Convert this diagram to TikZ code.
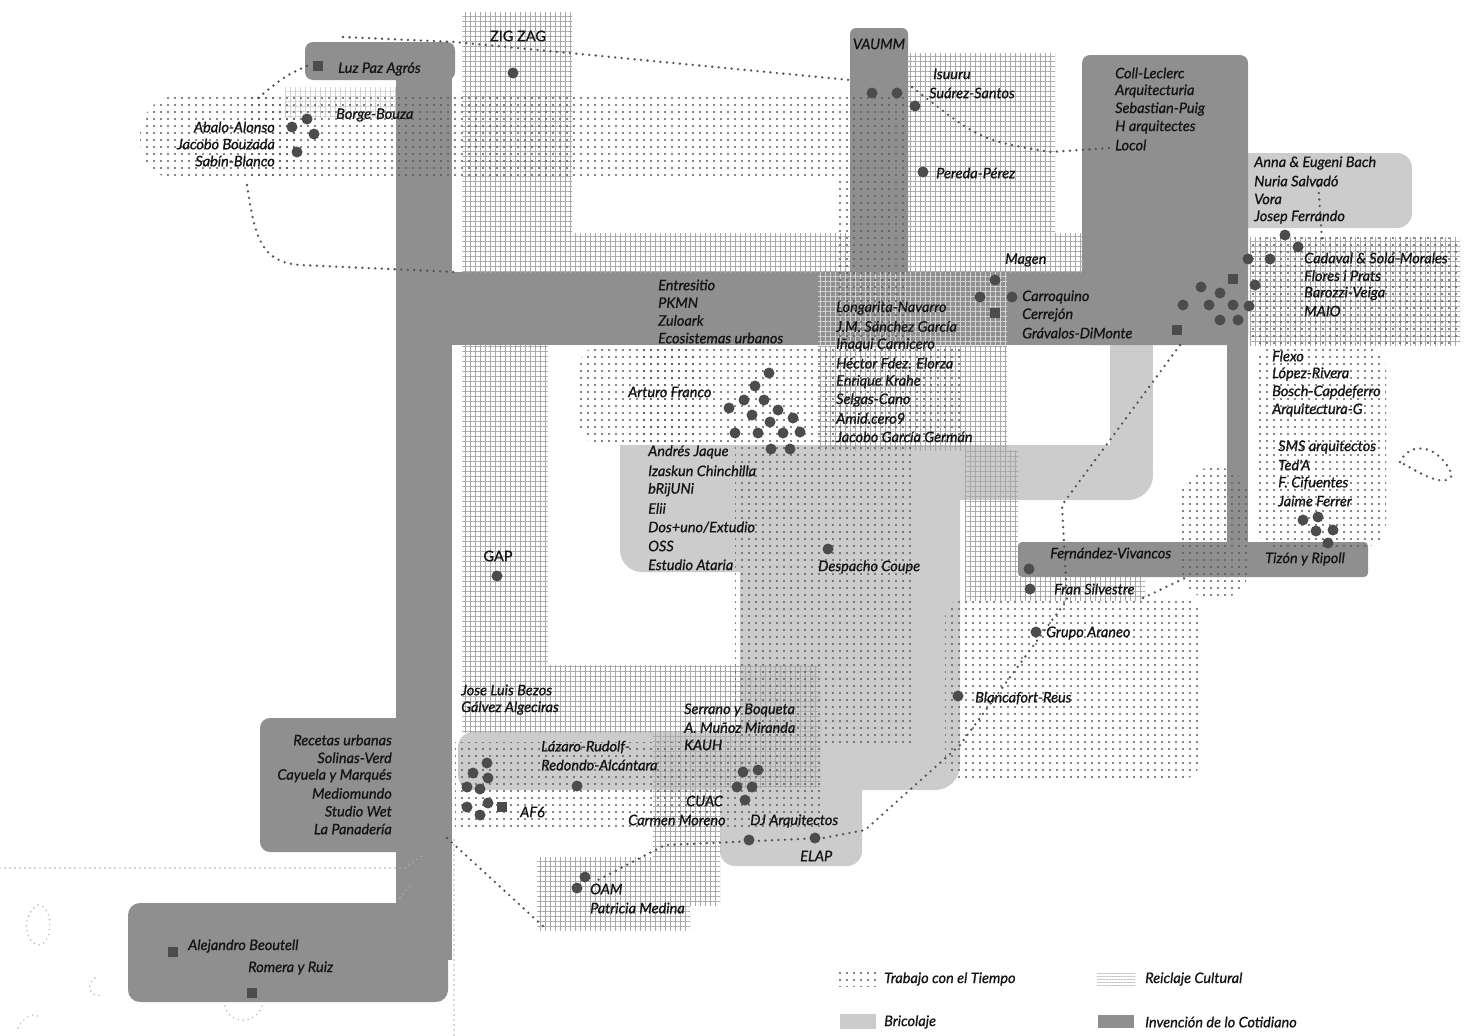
\documentclass[tikz,border=0pt]{standalone}
\usepackage{fontspec}
\setmainfont{Lato}
\newfontfamily\labfont{Lato}[FakeBold=0.9]
\usetikzlibrary{patterns.meta}
\definecolor{dk}{gray}{0.56}
\definecolor{lg}{gray}{0.80}
\definecolor{grc}{gray}{0.66}
\definecolor{dtc}{gray}{0.36}
\definecolor{trc}{gray}{0.32}
\definecolor{mkc}{gray}{0.30}
\definecolor{txc}{gray}{0.08}
\tikzset{
 lab/.style={font=\labfont\fontsize{14.5}{17}\selectfont\itshape, anchor=west, inner sep=0pt, text=txc},
 labr/.style={lab, anchor=east},
 labu/.style={font=\labfont\fontsize{14.5}{17}\selectfont, inner sep=0pt, text=txc},
 gridfill/.style={pattern={Hatch[angle=0,distance=5pt,line width=0.5pt]}, pattern color=grc},
 gridlight/.style={pattern={Hatch[angle=0,distance=5pt,line width=0.5pt]}, pattern color=gray!35},
 dotfill/.style={pattern={Dots[radius=1.1pt,distance=7pt]}, pattern color=dtc},
 mk/.style={circle, fill=mkc, inner sep=0pt, minimum size=11pt},
 mksq/.style={rectangle, fill=mkc, inner sep=0pt, minimum size=10pt},
 trail/.style={draw=trc, line width=2.6pt, line cap=round, dash pattern=on 0pt off 6.5pt},
 trailthin/.style={draw=gray!60, line width=1.6pt, line cap=round, dash pattern=on 0pt off 5pt},
}
\begin{document}
\begin{tikzpicture}[x=1pt,y=-1pt]
\useasboundingbox (0,0) rectangle (1465,1036);
\fill[white] (0,0) rectangle (1465,1036);

% ---------- Bricolaje (light gray)
\fill[lg, rounded corners=15pt] (1200,153) rectangle (1412,228);
\fill[lg] (1110,340) rectangle (1153,470);
\fill[lg, rounded corners=25pt] (1000,445) rectangle (1153,500);
\fill[lg] (620,445) rectangle (1100,500);
\fill[lg, rounded corners=22pt] (620,445) rectangle (760,572);
\fill[lg] (650,445) rectangle (760,572);
\fill[lg, rounded corners=25pt] (740,445) rectangle (960,790);
\fill[lg] (740,445) rectangle (930,790);
\fill[lg, rounded corners=15pt] (458,732) rectangle (840,790);
\fill[lg, rounded corners=15pt] (720,770) rectangle (862,866);

% ---------- Invencion de lo Cotidiano (dark gray)
\fill[dk, rounded corners=8pt] (305,42) rectangle (455,80);
\fill[dk] (396,60) rectangle (452,960);
\fill[dk, rounded corners=10pt] (260,718) rectangle (446,852);
\fill[dk, rounded corners=12pt] (128,903) rectangle (448,1002);
\fill[dk] (450,272) rectangle (1230,345);
\fill[dk, rounded corners=6pt] (850,28) rectangle (908,300);
\fill[dk, rounded corners=8pt] (1082,55) rectangle (1248,345);
\fill[dk] (1227,330) rectangle (1248,560);
\fill[dk, rounded corners=4pt] (1018,542) rectangle (1368,577);

% ---------- Reciclaje Cultural (grid)
\path[gridfill] (462,12) rectangle (572,272);
\path[gridfill] (572,233) rectangle (850,272);
\path[gridfill] (908,53) rectangle (1055,272);
\path[gridfill] (1055,233) rectangle (1082,272);
\path[gridfill] (462,345) rectangle (548,732);
\path[gridfill] (548,665) rectangle (820,732);
\path[gridfill] (653,732) rectangle (820,787);
\path[gridfill] (653,787) rectangle (720,905);
\path[gridfill] (537,857) rectangle (690,930);
\path[gridfill] (818,345) rectangle (1007,450);
\path[gridlight] (818,272) rectangle (1007,345);
\path[gridfill] (965,450) rectangle (1018,600);
\path[gridfill] (1018,577) rectangle (1145,600);
\path[gridfill] (1250,237) rectangle (1460,345);
\path[gridlight] (285,87) rectangle (396,118);

% ---------- Trabajo con el Tiempo (dots)
\path[dotfill, rounded corners=40pt] (140,95) rectangle (300,180);
\path[dotfill] (250,95) rectangle (908,180);
\path[dotfill] (837,180) rectangle (908,345);
\path[dotfill, rounded corners=25pt] (578,345) rectangle (700,445);
\path[dotfill] (640,345) rectangle (960,445);
\path[dotfill] (735,445) rectangle (915,742);
\path[dotfill] (455,742) rectangle (825,828);
\path[dotfill, rounded corners=20pt] (945,598) rectangle (1200,780);
\path[dotfill, rounded corners=35pt] (1180,467) rectangle (1250,600);
\path[dotfill, rounded corners=25pt] (1255,345) rectangle (1386,548);
\path[dotfill, rounded corners=15pt] (1250,237) rectangle (1460,345);

% ---------- dotted trails
\coordinate (t1a) at (307,66); \coordinate (t1b) at (258,98);
\draw[trail] (t1a) .. controls (285,76) .. (t1b);
\coordinate (t2a) at (247,185); \coordinate (t2b) at (455,272);
\draw[trail] (t2a) .. controls (255,240) and (262,262) .. (300,265) -- (t2b);
\coordinate (t3a) at (343,37); \coordinate (t3b) at (850,80);
\draw[trail] (t3a) -- (455,42) -- (t3b);
\coordinate (t4a) at (912,87); \coordinate (t4b) at (1110,148);
\draw[trail] (t4a) .. controls (980,140) .. (1050,152) -- (t4b);
\coordinate (t5a) at (1180,345); \coordinate (t5b) at (598,880);
\draw[trail] (t5a) -- (1062,505) -- (1067,600) -- (960,745) -- (865,830) -- (823,838) -- (665,845) -- (t5b);
\coordinate (t6a) at (447,838); \coordinate (t6b) at (545,928);
\draw[trail] (t6a) -- (t6b);
\coordinate (t7a) at (0,868); \coordinate (t7b) at (422,856);
\draw[trailthin] (t7a) -- (405,868) -- (t7b);
\coordinate (t8a) at (454,840); \coordinate (t8b) at (454,1036);
\draw[trailthin] (t8a) -- (t8b);
\coordinate (t9a) at (1143,598); \coordinate (t9b) at (1187,577);
\draw[trail] (t9a) -- (t9b);
\coordinate (t10a) at (1318,180); \coordinate (t10b) at (1322,240);
\draw[trail] (t10a) -- (t10b);
\draw[trail] (1400,462) .. controls (1410,440) and (1440,445) .. (1452,475) .. controls (1445,490) and (1415,470) .. (1400,462);
\draw[trailthin] (38,905) .. controls (20,915) and (25,945) .. (40,945) .. controls (55,940) and (52,905) .. (38,905);
\draw[trailthin] (95,978) .. controls (85,985) and (90,998) .. (102,995);
\draw[trailthin] (18,1028) .. controls (25,1015) and (35,1012) .. (40,1018);
\draw[trailthin] (225,1006) .. controls (230,1025) and (255,1025) .. (262,1006);
\draw[trailthin] (400,898) -- (412,884);

% ---------- markers
\node[mksq] (luz) at (318,66) {};
\foreach \p [count=\i] in {(292,127),(307,119),(314,134),(297,152)} \node[mk] (abalo\i) at \p {};
\node[mk] (zig) at (513,73) {};
\node[mk] (vau1) at (872,93) {};
\node[mk] (vau2) at (897,93) {};
\node[mk] (sua) at (915,106) {};
\node[mk] (per) at (923,172) {};
\foreach \p [count=\i] in {(1285,235),(1298,247),(1248,259),(1270,259),(1201,287),(1220,293),(1255,285),(1183,305),(1209,305),(1233,305),(1249,306),(1220,320),(1238,320)} \node[mk] (cl\i) at \p {};
\node[mksq] (clsq1) at (1233,279) {};
\node[mksq] (clsq2) at (1177,330) {};
\foreach \p [count=\i] in {(995,280),(980,297),(1012,297)} \node[mk] (mag\i) at \p {};
\node[mksq] (magsq) at (995,313) {};
\foreach \p [count=\i] in {(769,373),(755,386),(744,400),(764,400),(729,408),(778,410),(752,415),(770,422),(793,418),(735,433),(758,433),(783,433),(800,432),(771,449),(790,449)} \node[mk] (af\i) at \p {};
\node[mk] (coupe) at (828,549) {};
\node[mk] (gap) at (497,576) {};
\node[mk] (fer) at (1029,569) {};
\node[mk] (fran) at (1030,589) {};
\node[mk] (ara) at (1036,632) {};
\node[mk] (bla) at (958,696) {};
\foreach \p [count=\i] in {(1303,520),(1318,517),(1316,531),(1333,530),(1328,543)} \node[mk] (sms\i) at \p {};
\node[mksq] (ale) at (173,952) {};
\node[mksq] (rom) at (252,993) {};
\foreach \p [count=\i] in {(487,763),(473,773),(488,778),(467,787),(480,789),(467,807),(488,803),(480,815)} \node[mk] (afs\i) at \p {};
\node[mksq] (afsq) at (502,807) {};
\node[mk] (laz) at (577,786) {};
\foreach \p [count=\i] in {(743,772),(758,770),(737,787),(752,787),(745,800)} \node[mk] (cuac\i) at \p {};
\node[mk] (dj) at (749,840) {};
\node[mk] (elap) at (815,838) {};
\node[mk] (oam1) at (585,877) {};
\node[mk] (oam2) at (577,888) {};

% ---------- labels
\node[labu] (zigzag) at (518,36) {ZIG ZAG};
\node[lab] (luzt) at (338,69) {Luz Paz Agrós};
\node[lab] (borge) at (336,115) {Borge-Bouza};
\foreach \t [count=\i] in {Abalo-Alonso, Jacobo Bouzada, Sabín-Blanco} \node[labr] (abt\i) at (275,{127+17*(\i-1)}) {\t};
\node[lab, anchor=center] (vaumm) at (879,44) {VAUMM};
\node[lab] (isu) at (933,74) {Isuuru};
\node[lab] (suat) at (929,93) {Suárez-Santos};
\node[lab] (pert) at (936,173) {Pereda-Pérez};
\foreach \t [count=\i] in {Coll-Leclerc, Arquitecturia, Sebastian-Puig, H arquitectes, Locol} \node[lab] (coll\i) at (1115,{73+18*(\i-1)}) {\t};
\foreach \t [count=\i] in {Anna \& Eugeni Bach, Nuria Salvadó, Vora, Josep Ferrando} \node[lab] (anna\i) at (1254,{163+18*(\i-1)}) {\t};
\foreach \t [count=\i] in {Cadaval \& Solá-Morales, Flores i Prats, Barozzi-Veiga, MAIO} \node[lab] (cad\i) at (1304,{258+17.7*(\i-1)}) {\t};
\node[lab] (magen) at (1005,260) {Magen};
\foreach \t [count=\i] in {Carroquino, Cerrejón, Grávalos-DiMonte} \node[lab] (car\i) at (1022,{297+18*(\i-1)}) {\t};
\foreach \t [count=\i] in {Entresitio, PKMN, Zuloark, Ecosistemas urbanos} \node[lab] (ent\i) at (658,{285+17.7*(\i-1)}) {\t};
\foreach \t [count=\i] in {Longarita-Navarro, J.M. Sánchez García, Iñaqui Carnicero, Héctor Fdez. Elorza, Enrique Krahe, Selgas-Cano, Amid.cero9, Jacobo García Germán} \node[lab] (lon\i) at (836,{308+18.4*(\i-1)}) {\t};
\node[lab] (arturo) at (628,392) {Arturo Franco};
\foreach \t [count=\i] in {Andrés Jaque, Izaskun Chinchilla, bRijUNi, Elii, Dos+uno/Extudio, OSS, Estudio Ataria} \node[lab] (and\i) at (648,{452+18.8*(\i-1)}) {\t};
\node[lab] (coupet) at (818,567) {Despacho Coupe};
\node[labu] (gapt) at (498,556) {GAP};
\foreach \t [count=\i] in {Flexo, López-Rivera, Bosch-Capdeferro, Arquitectura-G} \node[lab] (flx\i) at (1272,{356+18*(\i-1)}) {\t};
\foreach \t [count=\i] in {SMS arquitectos, Ted'A, F. Cifuentes, Jaime Ferrer} \node[lab] (smst\i) at (1278,{447+18*(\i-1)}) {\t};
\node[lab] (fert) at (1050,553) {Fernández-Vivancos};
\node[lab] (tizon) at (1265,559) {Tizón y Ripoll};
\node[lab] (frant) at (1054,589) {Fran Silvestre};
\node[lab] (arat) at (1046,633) {Grupo Araneo};
\node[lab] (blat) at (975,698) {Blancafort-Reus};
\node[lab] (bez1) at (461,690) {Jose Luis Bezos};
\node[lab] (bez2) at (461,708) {Gálvez Algeciras};
\foreach \t [count=\i] in {Serrano y Boqueta, A. Muñoz Miranda, KAUH} \node[lab] (ser\i) at (684,{710+17.5*(\i-1)}) {\t};
\node[lab] (laz1) at (541,747) {Lázaro-Rudolf-};
\node[lab] (laz2) at (541,765) {Redondo-Alcántara};
\node[lab] (af6) at (520,812) {AF6};
\node[lab] (cuact) at (686,801) {CUAC};
\node[lab] (carmen) at (628,820) {Carmen Moreno};
\node[lab] (djt) at (750,821) {DJ Arquitectos};
\node[lab] (elapt) at (800,856) {ELAP};
\node[lab] (oamt) at (590,889) {OAM};
\node[lab] (pat) at (590,908) {Patricia Medina};
\foreach \t [count=\i] in {Recetas urbanas, Solinas-Verd, Cayuela y Marqués, Mediomundo, Studio Wet, La Panadería} \node[labr] (rec\i) at (392,{740+17.8*(\i-1)}) {\t};
\node[lab] (alet) at (188,946) {Alejandro Beoutell};
\node[lab] (romt) at (248,968) {Romera y Ruiz};

% ---------- legend
\path[dotfill] (838,972) rectangle (876,986);
\path[pattern={Lines[angle=0,distance=3pt,line width=0.6pt]}, pattern color=gray!45] (1097,972) rectangle (1135,986);
\fill[lg] (840,1014) rectangle (876,1029);
\fill[dk] (1098,1015) rectangle (1134,1028);
\node[lab] (leg1) at (884,979) {Trabajo con el Tiempo};
\node[lab] (leg2) at (1145,979) {Reiclaje Cultural};
\node[lab] (leg3) at (884,1022) {Bricolaje};
\node[lab] (leg4) at (1145,1022) {Invención de lo Cotidiano};
\end{tikzpicture}
\end{document}
